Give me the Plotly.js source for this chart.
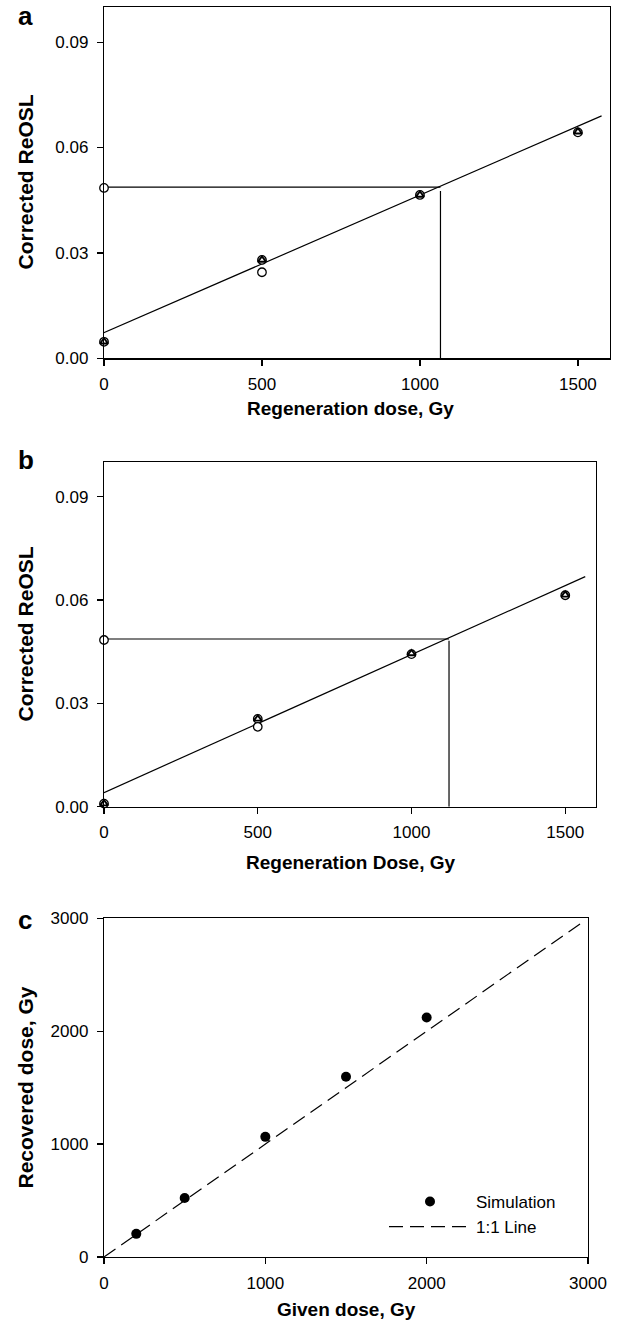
<!DOCTYPE html>
<html>
<head>
<meta charset="utf-8">
<script src="https://cdn.plot.ly/plotly-3.0.1.min.js"></script>
<style>html,body{margin:0;padding:0;background:#fff;}#chart{width:620px;height:1320px;}</style>
</head>
<body>
<div id="chart"></div>
<script>
// ---------- Panel a ----------
const doseA = [0, 500, 1000, 1500];
const triA = [0.0047, 0.0280, 0.0465, 0.0645];
const circA = [0.0047, 0.0280, 0.0465, 0.0643];
const recycleDoseA = [500];
const recycleA = [0.0245];
const naturalA = [0.0485];
const fitAx = [-20, 1575];
const fitAy = [0.0065, 0.0690];
const deA = 1065;          // equivalent dose
const levelA = 0.0487;     // natural level line
const vTopA = 0.0476;

// ---------- Panel b ----------
const doseB = [0, 500, 1000, 1500];
const triB = [0.0009, 0.0255, 0.0445, 0.0615];
const circB = [0.0009, 0.0255, 0.0443, 0.0614];
const recycleDoseB = [500];
const recycleB = [0.0232];
const naturalB = [0.0484];
const fitBx = [0, 1565];
const fitBy = [0.0041, 0.0668];
const deB = 1122;
const levelB = 0.0487;
const vTopB = 0.0482;

// ---------- Panel c ----------
const givenDose = [200, 500, 1000, 1500, 2000];
const recoveredDose = [205, 523, 1064, 1596, 2122];
const oneToOne = [0, 2960];

const ticksAB_x = [0, 500, 1000, 1500];
const ticksAB_y = [0, 0.03, 0.06, 0.09];
const ticksC = [0, 1000, 2000, 3000];

const FONT = 'Liberation Sans, Arial, Helvetica, sans-serif';
const W = 620, H = 1320;
const px = v => v / W;
const py = v => 1 - v / H;

const openCircle = {symbol: 'circle', size: 8.5, color: '#fff', line: {color: '#000', width: 1.3}};
const openTri = {symbol: 'triangle-up-open', size: 7, color: '#000', line: {color: '#000', width: 1.9}};
const blk = {color: '#000', width: 1.2};

function ax(domain, range, tickvals, fmt, anchor, standoff) {
  return {
    domain: domain, range: range, tickvals: tickvals, tickformat: fmt, anchor: anchor,
    showline: true, mirror: true, linecolor: '#000', linewidth: 1.2,
    ticks: 'outside', ticklen: 6, tickwidth: 1.2, tickcolor: '#000',
    showgrid: false, zeroline: false, fixedrange: true,
    tickfont: {family: FONT, size: 17, color: '#000'},
    ticklabelstandoff: standoff
  };
}

const traces = [
  // panel a
  {x: fitAx, y: fitAy, mode: 'lines', line: blk, xaxis: 'x', yaxis: 'y', showlegend: false, hoverinfo: 'skip'},
  {x: [0, deA], y: [levelA, levelA], mode: 'lines', line: blk, xaxis: 'x', yaxis: 'y', showlegend: false, hoverinfo: 'skip'},
  {x: [deA, deA], y: [vTopA, 0], mode: 'lines', line: blk, xaxis: 'x', yaxis: 'y', showlegend: false, hoverinfo: 'skip'},
  {x: doseA, y: circA, mode: 'markers', marker: openCircle, xaxis: 'x', yaxis: 'y', showlegend: false, cliponaxis: false},
  {x: recycleDoseA, y: recycleA, mode: 'markers', marker: openCircle, xaxis: 'x', yaxis: 'y', showlegend: false, cliponaxis: false},
  {x: doseA, y: triA, mode: 'markers', marker: openTri, xaxis: 'x', yaxis: 'y', showlegend: false, cliponaxis: false},
  {x: [0], y: naturalA, mode: 'markers', marker: openCircle, xaxis: 'x', yaxis: 'y', showlegend: false, cliponaxis: false},
  // panel b
  {x: fitBx, y: fitBy, mode: 'lines', line: blk, xaxis: 'x2', yaxis: 'y2', showlegend: false, hoverinfo: 'skip'},
  {x: [0, deB], y: [levelB, levelB], mode: 'lines', line: blk, xaxis: 'x2', yaxis: 'y2', showlegend: false, hoverinfo: 'skip'},
  {x: [deB, deB], y: [vTopB, 0], mode: 'lines', line: blk, xaxis: 'x2', yaxis: 'y2', showlegend: false, hoverinfo: 'skip'},
  {x: doseB, y: circB, mode: 'markers', marker: openCircle, xaxis: 'x2', yaxis: 'y2', showlegend: false, cliponaxis: false},
  {x: recycleDoseB, y: recycleB, mode: 'markers', marker: openCircle, xaxis: 'x2', yaxis: 'y2', showlegend: false, cliponaxis: false},
  {x: doseB, y: triB, mode: 'markers', marker: openTri, xaxis: 'x2', yaxis: 'y2', showlegend: false, cliponaxis: false},
  {x: [0], y: naturalB, mode: 'markers', marker: openCircle, xaxis: 'x2', yaxis: 'y2', showlegend: false, cliponaxis: false},
  // panel c
  {x: givenDose, y: recoveredDose, mode: 'markers', name: 'Simulation',
   marker: {symbol: 'circle', size: 10, color: '#000'}, xaxis: 'x3', yaxis: 'y3', cliponaxis: false},
  {x: oneToOne, y: oneToOne, mode: 'lines', name: '1:1 Line',
   line: {color: '#000', width: 1.2, dash: '14px,7px'}, xaxis: 'x3', yaxis: 'y3'}
];

function ann(text, x, y, size, extra) {
  return Object.assign({text: text, xref: 'paper', yref: 'paper', x: px(x), y: py(y),
    showarrow: false, font: {family: FONT, size: size, color: '#000', weight: 'bold'}}, extra || {});
}

const layout = {
  width: W, height: H,
  margin: {l: 0, r: 0, t: 0, b: 0},
  paper_bgcolor: '#fff', plot_bgcolor: '#fff',
  font: {family: FONT, color: '#000'},
  xaxis: ax([px(104), px(609.5)], [0, 1600], ticksAB_x, 'd', 'y', 4),
  yaxis: ax([py(358.3), py(7)], [0, 0.1], ticksAB_y, '.2f', 'x', 5),
  xaxis2: ax([px(104), px(596)], [0, 1600], ticksAB_x, 'd', 'y2', 4),
  yaxis2: ax([py(806.7), py(462.3)], [0, 0.1], ticksAB_y, '.2f', 'x2', 5),
  xaxis3: ax([px(104), px(588)], [0, 3000], ticksC, 'd', 'y3', 4),
  yaxis3: ax([py(1257), py(918.3)], [0, 3000], ticksC, 'd', 'x3', 5),
  showlegend: true,
  legend: {x: px(384), y: py(1184), xanchor: 'left', yanchor: 'top',
    bgcolor: 'rgba(0,0,0,0)', borderwidth: 0, itemwidth: 82, tracegroupgap: 0,
    font: {family: FONT, size: 17, color: '#000'}},
  annotations: [
    ann('a', 16, 16, 26, {xanchor: 'left', yanchor: 'middle'}),
    ann('b', 16, 460, 26, {xanchor: 'left', yanchor: 'middle'}),
    ann('c', 16, 920, 26, {xanchor: 'left', yanchor: 'middle'}),
    ann('Corrected ReOSL', 25, 182.5, 21, {textangle: -90, xanchor: 'center', yanchor: 'middle'}),
    ann('Corrected ReOSL', 25, 634.5, 21, {textangle: -90, xanchor: 'center', yanchor: 'middle'}),
    ann('Recovered dose, Gy', 25, 1087.5, 21, {textangle: -90, xanchor: 'center', yanchor: 'middle'}),
    ann('Regeneration dose, Gy', 350, 408, 19, {xanchor: 'center', yanchor: 'middle'}),
    ann('Regeneration Dose, Gy', 350, 862, 19, {xanchor: 'center', yanchor: 'middle'}),
    ann('Given dose, Gy', 346, 1309, 19, {xanchor: 'center', yanchor: 'middle'})
  ]
};

Plotly.newPlot('chart', traces, layout, {staticPlot: true, displayModeBar: false});
</script>
</body>
</html>
